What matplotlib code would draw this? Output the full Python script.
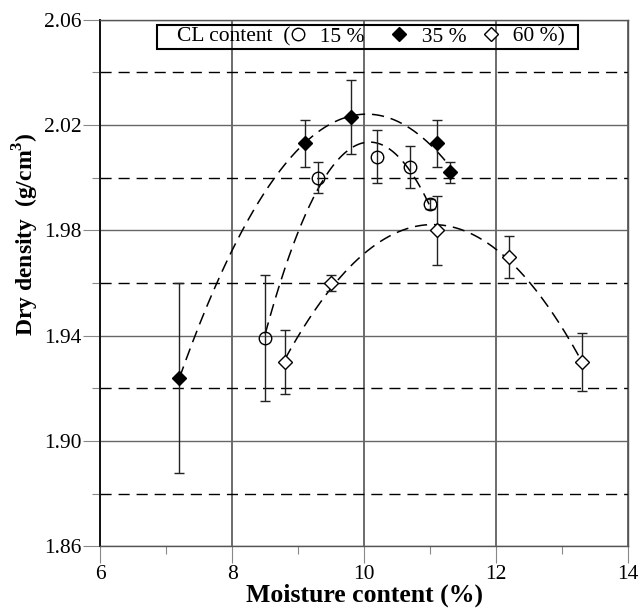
#!/usr/bin/env python3
# -*- coding: utf-8 -*-
"""
Dry density vs. moisture content (compaction curves) for three CL contents.
"""
import numpy as np
import matplotlib
matplotlib.use("Agg")
import matplotlib.pyplot as plt
from matplotlib.lines import Line2D

PLOT_SETTINGS = {"font.family": "Liberation Serif",
                 "mathtext.fontset": "custom",
                 "mathtext.rm": "Liberation Serif",
                 "mathtext.bf": "Liberation Serif:bold",
                 "figure.figsize": (6.4, 6.09),
                 "figure.dpi": 100,
                 "font.size": 15,
                 "xtick.labelsize": 15.5,
                 "ytick.labelsize": 15.5,
                 "axes.linewidth": 1.0,
                 }
plt.rcParams.update(PLOT_SETTINGS)

# CL content 15 %
moist_15 = [8.5, 9.3, 10.2, 10.7, 11.0]
dens_15 = [1.939, 2.000, 2.008, 2.004, 1.990]
err_15 = [0.024, 0.006, 0.010, 0.008, 0.002]

# CL content 35 %
moist_35 = [7.2, 9.1, 9.8, 11.1, 11.3]
dens_35 = [1.924, 2.013, 2.023, 2.013, 2.002]
err_35 = [0.036, 0.009, 0.014, 0.009, 0.004]

# CL content 60 %
moist_60 = [8.8, 9.5, 11.1, 12.2, 13.3]
dens_60 = [1.930, 1.960, 1.980, 1.970, 1.930]
err_60 = [0.012, 0.003, 0.013, 0.008, 0.011]

legend_labels = ["CL content  (", "  15 %     ", "  35 %   ", "  60 %)  "]


def trend(x, y):
    """Second order polynomial trend line over the range of the data."""
    coef = np.polyfit(x, y, 2)
    xs = np.linspace(min(x), max(x), 200)
    return xs, np.polyval(coef, xs)


fig = plt.figure()
fig.subplots_adjust(left=0.1567, right=0.9808, top=0.9677, bottom=0.1030)
ax = fig.add_subplot(111)

ax.set_xlim(6, 14)
ax.set_ylim(1.86, 2.06)
ax.set_xticks(np.arange(6, 15, 2))
ax.set_xticks(np.arange(7, 14, 2), minor=True)
ax.set_yticks(np.arange(1.86, 2.061, 0.04))
ax.set_yticks(np.arange(1.88, 2.05, 0.04), minor=True)
ax.yaxis.set_major_formatter(matplotlib.ticker.FormatStrFormatter("%.2f"))
ax.tick_params(which="major", direction="out", length=12, width=0.8,
               color="#888888", pad=1.5)
ax.tick_params(which="minor", direction="out", length=6, width=0.8,
               color="#888888")

# grid
ax.grid(which="major", axis="y", color="#666666", linestyle="-", linewidth=1.0)
ax.grid(which="major", axis="x", color="#444444", linestyle="-", linewidth=1.1)
ax.grid(which="minor", axis="y", color="black", linestyle=(0, (8, 5)),
        linewidth=1.0)
for gl in ax.get_xgridlines():
    if np.isclose(gl.get_xdata()[0], 12):
        gl.set_linewidth(1.8)
        gl.set_color("#111111")
for tick in ax.yaxis.get_minor_ticks():
    if np.isclose(tick.get_loc(), 1.96) or np.isclose(tick.get_loc(), 1.88):
        tick.gridline.set_linewidth(1.7)
ax.set_axisbelow(True)
for side in ["top", "right", "bottom"]:
    ax.spines[side].set_color("#555555")
ax.spines["left"].set_color("#111111")
ax.spines["left"].set_linewidth(1.4)

# trend lines
for mx, dy in [(moist_15, dens_15), (moist_35, dens_35), (moist_60, dens_60)]:
    xs, ys = trend(mx, dy)
    ax.plot(xs, ys, color="black", linestyle=(0, (8, 4.5)), linewidth=1.1)

ekw = dict(ecolor="#222222", elinewidth=1.0, capsize=3.5, capthick=1.0,
           linestyle="none")
ax.errorbar(moist_15, dens_15, yerr=err_15, marker="o", markersize=9,
            markerfacecolor="none", markeredgecolor="black",
            markeredgewidth=1.0, **ekw)
ax.errorbar(moist_35, dens_35, yerr=err_35, marker="D", markersize=7,
            markerfacecolor="black", markeredgecolor="black", **ekw)
ax.errorbar(moist_60, dens_60, yerr=err_60, marker="D", markersize=7,
            markerfacecolor="white", markeredgecolor="black",
            markeredgewidth=1.0, **ekw)

handles = [Line2D([], [], linestyle="none"),
           Line2D([], [], marker="o", markersize=9, markerfacecolor="none",
                  markeredgecolor="black", linestyle="none"),
           Line2D([], [], marker="D", markersize=7, markerfacecolor="black",
                  markeredgecolor="black", linestyle="none"),
           Line2D([], [], marker="D", markersize=7, markerfacecolor="white",
                  markeredgecolor="black", linestyle="none")]
leg = ax.legend(handles, legend_labels, ncol=4, loc="upper left",
                bbox_to_anchor=(0.108, 0.9905), fontsize=15.5,
                handlelength=0.5, handletextpad=0.3, columnspacing=0.1,
                borderpad=0.1, borderaxespad=0.0, fancybox=False,
                framealpha=1.0, edgecolor="black")
leg.get_frame().set_linewidth(1.5)
leg.get_frame().set_facecolor("none")

ax.set_xlabel("Moisture content (%)", fontsize=18.5, fontweight="bold",
              labelpad=0)
ax.set_ylabel(r"Dry density  (g/cm$^{\mathbf{3}}$)", fontsize=17,
              fontweight="bold")
ax.yaxis.set_label_coords(-0.112, 0.593)

plt.savefig("out.png", dpi=100)
